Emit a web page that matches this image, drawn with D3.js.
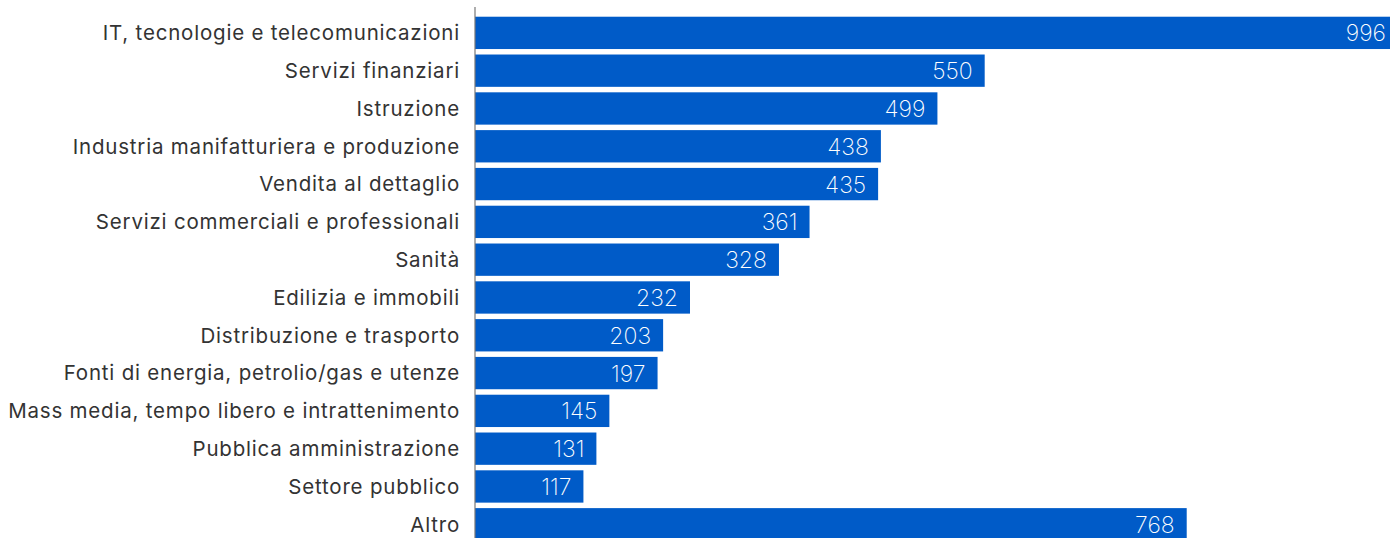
<!DOCTYPE html>
<html>
<head>
<meta charset="utf-8">
<script src="https://cdn.jsdelivr.net/npm/d3@7"></script>
<style>
  html, body { margin: 0; padding: 0; overflow: hidden; background: #fff; }
  svg { display: block; }
</style>
</head>
<body>
<figure id="settori" style="margin:0"></figure>
<script>
// categories and values
var categories = [
  "IT, tecnologie e telecomunicazioni",
  "Servizi finanziari",
  "Istruzione",
  "Industria manifatturiera e produzione",
  "Vendita al dettaglio",
  "Servizi commerciali e professionali",
  "Sanità",
  "Edilizia e immobili",
  "Distribuzione e trasporto",
  "Fonti di energia, petrolio/gas e utenze",
  "Mass media, tempo libero e intrattenimento",
  "Pubblica amministrazione",
  "Settore pubblico",
  "Altro"
];
var values = [996, 550, 499, 438, 435, 361, 328, 232, 203, 197, 145, 131, 117, 768];

var data = categories.map(function(c, i) { return {name: c, value: values[i]}; });

// set the dimensions and margins of the graph
var margin = {top: 7, right: 0, bottom: 0, left: 475},
  width = 923,
  height = 540;

var svg = d3.select("figure#settori")
  .append("svg")
    .attr("width", width + margin.left + margin.right)
    .attr("height", 538)
  .append("g")
    .attr("transform", "translate(" + margin.left + "," + margin.top + ")");

var x = d3.scaleLinear()
  .domain([0, 996])
  .range([0, width]);

// step of about 37.8px, first bar starts ~10px below the axis top
var step = 37.8, pi = 0.145, po = 0.257;
var y = d3.scaleBand()
  .domain(categories)
  .range([0, step * (categories.length - pi + 2 * po)])
  .paddingInner(pi)
  .paddingOuter(po);

// bars
svg.selectAll("rect")
  .data(data)
  .enter()
  .append("rect")
    .attr("x", 0)
    .attr("y", function(d) { return y(d.name); })
    .attr("width", function(d) { return x(d.value); })
    .attr("height", y.bandwidth())
    .attr("fill", "#005bc8");

// value labels inside the bars
svg.selectAll("text.val")
  .data(data)
  .enter()
  .append("text")
    .attr("class", "val")
    .attr("x", function(d) { return x(d.value) - 12; })
    .attr("y", function(d) { return y(d.name) + y.bandwidth() / 2; })
    .attr("dy", "0.37em")
    .attr("text-anchor", "end")
    .attr("fill", "#fff")
    .style("font-family", "Inter, sans-serif")
    .style("font-weight", 200)
    .style("font-size", "23px")
    .text(function(d) { return d.value; });

// y axis
var yAxis = svg.append("g")
  .call(d3.axisLeft(y).tickSize(0).tickPadding(15));
yAxis.select(".domain")
  .attr("d", "M0,0V" + height)
  .attr("stroke", "#777")
  .attr("stroke-width", 1.2);
yAxis.selectAll("text")
  .attr("fill", "#333")
  .attr("dy", "0.36em")
  .style("font-family", "Inter, sans-serif")
  .style("font-size", "20.5px")
  .style("letter-spacing", "0.8px");
</script>
</body>
</html>
